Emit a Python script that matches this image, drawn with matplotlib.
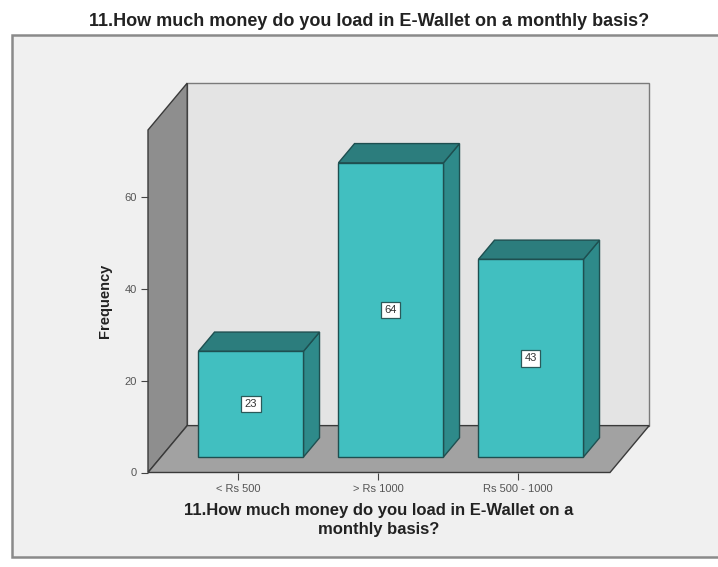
import numpy as np
import matplotlib
matplotlib.use("Agg")
from matplotlib import pyplot as plt
from matplotlib.patches import Polygon, Rectangle

plt.rcParams['font.family'] = ['Liberation Sans', 'DejaVu Sans']

# datos
categorias = ['< Rs 500', '> Rs 1000', 'Rs 500 - 1000']
frecuencias = [23, 64, 43]
yticks = [0, 20, 40, 60]
titulo = "11.How much money do you load in E-Wallet on a monthly basis?"
etiqueta_x = "11.How much money do you load in E-Wallet on a\nmonthly basis?"

# estilo 3d
YMAX = 74.5
X0, X1 = -0.643, 2.657
DX, DY = 0.28, 10.2      # vector de profundidad
F0, F1 = 0.33, 0.74      # profundidad de las barras
ANCHO = 0.75
c_frente = '#41bfc0'
c_tope = '#2c7d7d'
c_lado = '#2e8a8a'
c_borde = '#1e4f50'

fig = plt.figure(figsize=(7.18, 5.67), dpi=100)
fig.patch.set_facecolor('white')
marco = Rectangle((12/718, 10/567), 1.0, 522/567, transform=fig.transFigure,
                  facecolor='#f0f0f0', edgecolor='#8a8a8a', linewidth=1.8, zorder=-5)
fig.patches.append(marco)

ax = fig.add_axes([148/718, 1-472.5/567, 462/718, 342.5/567])
ax.set_xlim(X0, X1)
ax.set_ylim(0, YMAX)
ax.patch.set_visible(False)
for s in ax.spines.values():
    s.set_visible(False)

def poly(pts, color, z, borde='#3a3a3a'):
    p = Polygon(pts, closed=True, facecolor=color, edgecolor=borde,
                linewidth=1.0, clip_on=False, zorder=z)
    ax.add_patch(p)

# paredes
poly([(X0+DX, DY), (X1+DX, DY), (X1+DX, YMAX+DY), (X0+DX, YMAX+DY)], '#e4e4e4', 0.1, '#7a7a7a')
poly([(X0, 0), (X0, YMAX), (X0+DX, YMAX+DY), (X0+DX, DY)], '#8e8e8e', 0.2)
poly([(X0, 0), (X1, 0), (X1+DX, DY), (X0+DX, DY)], '#a2a2a2', 0.2)

# barras
pos = np.arange(len(categorias))
for c, v in zip(pos, frecuencias):
    xl = c - ANCHO/2
    xr = c + ANCHO/2
    poly([(xr+F0*DX, F0*DY), (xr+F1*DX, F1*DY), (xr+F1*DX, v+F1*DY), (xr+F0*DX, v+F0*DY)], c_lado, 3, c_borde)
    poly([(xl+F0*DX, v+F0*DY), (xr+F0*DX, v+F0*DY), (xr+F1*DX, v+F1*DY), (xl+F1*DX, v+F1*DY)], c_tope, 3, c_borde)
    poly([(xl+F0*DX, F0*DY), (xr+F0*DX, F0*DY), (xr+F0*DX, v+F0*DY), (xl+F0*DX, v+F0*DY)], c_frente, 4, c_borde)
    ax.text(c+F0*DX, F0*DY+v/2, str(v), ha='center', va='center', fontsize=8, color='#333333', zorder=6,
            bbox=dict(boxstyle='square,pad=0.3', facecolor='white', edgecolor='#2a5a5a', linewidth=0.9))

ax.set_xticks(pos)
ax.set_xticklabels(categorias)
ax.set_yticks(yticks)
ax.tick_params(axis='both', length=5, width=0.8, color='#444444', labelsize=8, labelcolor='#555555', pad=3)

ax.set_ylabel("Frequency", fontsize=10.5, fontweight='bold', labelpad=9, color='#222222')
ax.set_xlabel(etiqueta_x, fontsize=12, fontweight='bold', labelpad=7, linespacing=1.3, color='#222222')
fig.text(369.5/718, 1-21/567, titulo, ha='center', va='center', fontsize=13, fontweight='bold', color='#222222')

plt.savefig("out.png", dpi=100)
